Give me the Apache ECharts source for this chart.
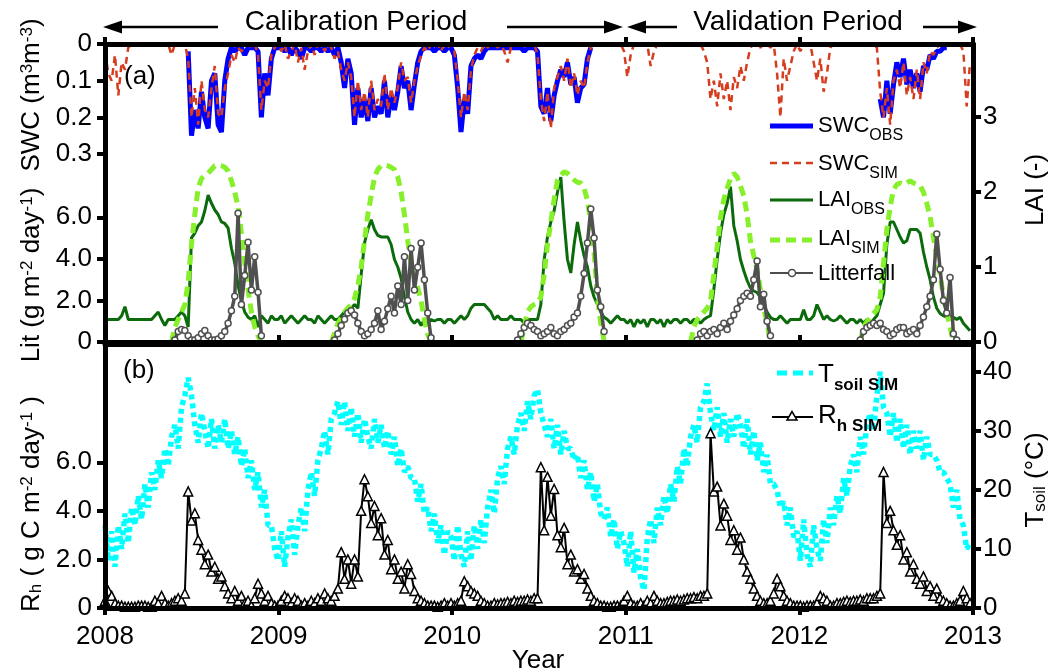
<!DOCTYPE html>
<html><head><meta charset="utf-8">
<script src="https://cdn.jsdelivr.net/npm/echarts@6/dist/echarts.min.js"></script>
<style>html,body{margin:0;padding:0;background:#fff}#c{width:1060px;height:672px}</style>
</head><body><div id="c"></div>
<script>
// ---------------- DATA (weekly samples starting 1 Jan 2008) ----------------
const _ = null;
const START_YEAR = 2008;
const STEP_DAYS = 7;
const xTicks = [2008, 2009, 2010, 2011, 2012, 2013];
const swcTicks = [0, 0.1, 0.2, 0.3];
const litTicks = [0, 2, 4, 6];
const laiTicks = [0, 1, 2, 3];
const rhTicks = [0, 2, 4, 6];
const tsoilTicks = [0, 10, 20, 30, 40];

const swcObs = [
 _,_,_,_,_,_,_,_,_,_,_,_,_,_,_,_,_,_,_,_,_,_,_,_,_,
 0.02,0.25,0.18,0.23,0.13,0.2,0.23,0.1,0.08,0.22,0.24,0.1,0.04,0.01,0.02,0.01,0.01,0.03,0.01,0.01,0.01,0.02,0.2,0.08,0.14,0.04,0.01,
 0.01,0.01,0.02,0.01,0.03,0.01,0.02,0.04,0.01,0.01,0.02,0.01,0.01,0.02,0.01,
 0.02,0.01,0.03,0.01,0.05,0.12,0.04,0.08,0.22,0.12,0.2,0.15,0.21,0.12,0.2,0.17,0.19,0.1,0.2,0.14,0.18,0.13,0.06,0.12,0.1,0.18,0.11,0.05,0.02,0.01,0.01,0.01,0.02,0.01,0.01,0.02,0.01,
 0.01,0.03,0.12,0.24,0.15,0.19,0.06,0.04,0.03,0.04,0.02,0.01,0.01,0.01,0.01,0.01,0.01,0.01,0.01,0.01,0.01,0.01,0.02,0.01,0.01,0.01,0.02,
 0.17,0.19,0.12,0.21,0.14,0.1,0.07,0.09,0.05,0.11,0.09,0.16,0.12,0.11,0.04,0.01,
 _,_,_,_,_,_,_,_,_,
 _,_,_,_,_,_,_,_,_,_,_,_,_,_,_,_,_,_,_,_,_,_,_,_,_,_,_,_,_,_,_,_,_,_,_,_,_,_,_,_,_,_,_,_,_,_,_,_,_,_,_,_,
 _,_,_,_,_,_,_,_,_,_,_,_,_,_,_,_,_,_,_,_,_,_,_,_,_,
 0.15,0.2,0.1,0.19,0.11,0.05,0.09,0.04,0.11,0.07,0.12,0.08,0.13,0.06,0.07,0.03,0.04,0.02,0.02,0.01,0.01,
 _,_,_,_,_,_,_
];
const swcSim = [
 0.02,0.08,0.1,0.03,0.14,0.05,0.07,0.01,0, 0,0,0,0,0,0,0,0,0,0, 0,0.03,0,0,0,0,
 0.04,0.2,0.12,0.22,0.1,0.18,0.2,0.12,0.06,0.19,0.2,0.12,0.08,0.03,0.05,0.01,0.02,0.01,0,0.01,0,0.03,0.18,0.1,0.12,0.03,0.01,
 0,0.02,0,0.04,0.02,0,0.05,0.01,0.07,0.02, 0,0.03,0,0,0.02,0,0.01,0.04,0.02,0.07, 0.1,0.05,0.09,0.2,0.1,0.18,0.13,0.2,0.1,0.18,
 0.15,0.17,0.08,0.18,0.12,0.16,0.12,0.05,0.1,0.09, 0.16,0.1,0.06,0.03,0.01,0.02,0,0.01,0,0.02, 0,0.01,
 0,0.02,0.1,0.2,0.13,0.18,0.07,0.03,0.01,0.02, 0,0.01,0,0,0.01,0,0.02,0.05,0.01,0, 0,0,0.01,0,0,0,0.03,0.15,0.21,0.13,
 0.23,0.12,0.09,0.06,0.1,0.04,0.12,0.08,0.14,0.1, 0.12,0.05,0.01,0,0,0,0,0,0,0, 0,0,
 0.02,0.09,0.03,0,0,0,0,0,0.06,0.02, 0,0,0,0,0,0,0,0,0,0, 0,0,0,0,0.02,0.05,0.15,0.1,0.17,0.08,
 0.15,0.1,0.18,0.09,0.12,0.06,0.1,0.05,0.01,0, 0,0.01,0,0,0.01,0,0.08,0.2,0.04,0.1, 0.06,0.02,
 0,0.02,0,0,0,0.05,0.1,0.04,0.13,0.08, 0.01,0,0,0,0,0,0,0,0,0, 0,0,0,0,0.01,0.13,0.2,0.12,0.22,0.1,
 0.07,0.12,0.05,0.14,0.09,0.15,0.07,0.15,0.05,0.08, 0.02,0.03,0.01,0,0,0,0,0,0,0, 0.02,0.17,0.05
];
const laiObs = [
 0.3,0.3,0.3,0.3,0.3,0.35,0.47,0.3,0.3, 0.3,0.3,0.3,0.3,0.3,0.3,0.35,0.4, 0.3,0.22,0.3,0.3,0.3,0.35,0.4,
 0.35,0.2,1.39,1.45,1.55,1.6,1.75,1.96,1.85,1.76,1.7,1.6,1.58,1.52,1.25,1.05,0.75,0.55,0.4,0.33,0.3,
 0.35,0.2,0.35,0.3,0.25,0.35,0.3,
 0.3,0.35,0.25,0.3,0.35,0.3,0.25,0.3,0.35,0.3,0.3,0.25,0.35,0.3,0.25,0.3,0.35,0.3, 0.3,0.35,0.4,0.43,
 0.45,0.5,0.45,0.9,1.32,1.5,1.63,1.5,1.42,1.4,1.4,1.4,1.3,1.1,1.0,0.85,0.6,0.4,0.3,
 0.25,0.3,0.22,0.3,0.25,0.3,0.28,0.3,0.3,0.25,0.3,
 0.3,0.25,0.3,0.35,0.3,0.35, 0.45,0.5,0.5,0.5,0.5,0.45,0.4,0.3, 0.35,0.3,0.3,0.3,0.35,0.3,0.3,0.3,0.25,0.3,0.3,0.3, 0.3,
 0.5,1.1,1.4,1.6,1.75,2.0,2.2,1.6,1.1,0.92,1.3,1.6,1.35,1.15,1.0,0.75,0.6,0.5,0.4,0.33, 0.3,0.25,0.3,0.35,0.3,
 0.3,0.25,0.3,0.2,0.3,0.25,0.3,0.2,0.3,0.3,0.25,0.3,0.2,0.3,0.25,0.3,0.3,0.25,0.3,0.3,0.25,0.3,0.3,0.25, 0.3,0.33,
 0.35,0.7,1.1,1.45,1.7,1.85,2.07,1.55,1.35,1.1,0.95,0.82,0.72,0.68,0.66,0.6,0.5,0.4,0.33, 0.3,0.3,0.35,0.3,0.25,0.3,0.3,
 0.3,0.3,0.43,0.3,0.3,0.35,0.5,0.4,0.3,0.35,0.3,0.28,0.3,0.35,0.3,0.25,0.3, 0.3,0.25,0.3,0.25,0.3,0.22,0.3,0.35,
 0.5,0.65,1.3,1.6,1.6,1.5,1.4,1.32,1.35,1.5,1.5,1.5,1.45,1.2,1.0,0.83,0.6,0.45,0.38,0.35,0.33,0.35,0.33,0.3,0.33,0.25,0.2,0.15
];
const laiSim = [
 _,_,_,_,_,_,_,_,_,_,_,_,_,_,_,_,_,_,_,_, 0,
 0.2,0.3,0.4,0.5,0.8,1.3,1.7,2.05,2.18,2.22,2.25,2.3,2.35,2.36,2.35,2.33,2.28,2.15,2.0,1.8,1.45,1.05,0.7,0.4,0.2,0.08,0, _,_,_,_,
 _,_,_,_,_,_,_,_,_,_,_,_,_,_,_,_,
 0,0.12,0.25,0.32,0.4,0.45,0.5,0.58,0.75,1.0,1.35,1.7,1.95,2.2,2.3,2.35,2.36,2.35,2.33,2.3,2.2,2.0,1.7,1.35,1.05,0.85,0.72,0.55,0.3,0.1,0, _,_,_,_,_,
 _,_,_,_,_,_,_,_,_,_,_,_,_,_,_,_,_,_,_,_,_,
 0,0.2,0.4,0.47,0.5,0.52,0.6,0.9,1.3,1.6,1.9,2.16,2.22,2.27,2.25,2.2,2.16,2.13,2.12,2.05,1.89,1.6,1.2,0.6,0.25,0.02, _,_,_,_,_,
 _,_,_,_,_,_,_,_,_,_,_,_,_,_,_,_,_,_,_,_,
 0,0.2,0.3,0.35,0.4,0.45,0.55,0.9,1.27,1.65,1.9,2.05,2.18,2.25,2.2,2.08,1.95,1.7,1.35,1.15,0.96,0.7,0.45,0.25,0, _,_,_,_,_,_,_,
 _,_,_,_,_,_,_,_,_,_,_,_,_,_,_,_,_,_,_,
 0,0.2,0.27,0.33,0.38,0.43,0.6,1.05,1.5,1.8,2.03,2.1,2.12,2.1,2.12,2.15,2.12,2.1,2.08,2.0,1.85,1.67,1.4,1.13,0.9,0.6,0.4,0.2,0, _,_,_,_,_
];
const litter = [
 _,_,_,_,_,_,_,_,_,_,_,_,_,_,_,_,_,_,_,_,_,
 0.1,0.5,0.6,0.55,0.3,0.1,0.1,0.2,0.4,0.55,0.3,0.1,0.1,0.15,0.3,0.5,0.9,1.5,2.2,6.2,1.8,3.2,4.8,2.5,4.1,2.4,0.3, _,_,_,_,
 _,_,_,_,_,_,_,_,_,_,_,_,_,_,_,_,_,
 0.1,0.4,0.8,1.1,1.4,1.5,1.3,0.9,0.5,0.3,0.4,0.6,0.9,1.5,0.6,1.0,1.6,2.2,1.4,2.7,1.8,4.1,2.0,4.5,2.5,3.6,4.76,3.0,1.4,0.2, _,_,_,_,_,
 _,_,_,_,_,_,_,_,_,_,_,_,_,_,_,_,_,_,_,_,
 0.1,0.4,0.7,0.9,0.8,0.6,0.5,0.3,0.4,0.5,0.7,0.4,0.3,0.5,0.6,0.8,0.9,1.2,1.4,2.2,3.3,4.76,6.4,5.0,2.5,1.7,0.5, _,_,_,_,_,
 _,_,_,_,_,_,_,_,_,_,_,_,_,_,_,_,_,_,_,_,_,_,
 0.1,0.4,0.5,0.3,0.5,0.6,0.4,0.7,0.9,0.6,1.0,1.3,1.6,2.0,2.2,2.35,2.2,3.0,3.9,1.7,2.3,1.0,0.3, _,_,_,_,_,_,_,
 _,_,_,_,_,_,_,_,_,_,_,_,_,_,_,_,_,_,_,
 0.1,0.5,0.7,0.8,0.9,0.8,0.9,0.6,0.5,0.3,0.4,0.6,0.7,0.7,0.4,0.5,0.6,0.4,0.8,1.2,1.7,2.2,3.0,5.2,3.5,2.0,1.4,3.1,0.4,0.1, _,_,_,_
];
const tsoil = [
 14,8,13,7,14,10,16,11,17, 14,19,15,21,17,23,20,25,22, 27,24,29,31,27,34,36, 39,36,31,28,33,30,27,32,27,31,28,32,27, 30,26,29,24,27,22,25, 20,23,17,20,14,14,10,
 8,13,7,12,15,9,14, 17,13,20,23,19,25, 27,30,26,32,33,35,31,35, 30,34,29,33,28,32,29,27,32,28, 31,27,30,26,29,24,27,23, 24,22,22,18,21,16,17, 13,16,11,14,9,13,
 12,8,14,9,7,13,8,14,10, 15,11,17,20,16,22, 24,21,27,29,26,31, 33,30,35,32,36,37, 33,31,29,32,27,31,26,30,27, 27,25,26,22,25,20, 23,18,21,16,15,17, 12,15,10,13,
 11,7,13,6,10,5,3, 12,15,11,17,14,19,16, 21,18,24,21,27,24, 29,31,28,34,35,38, 33,30,34,29,33,28,32,29,33, 31,27,32,26,30,25,28,23, 26,21,21,20,17,18, 14,17,12,
 13,8,15,9,7,14,10,8,15,11,17, 14,19,16,22,19,24, 26,23,29,26,31,33,30,36, 40,34,33, 29,33,28,32,27,31,26,30,27, 30,25,29,26,26,25,23, 23,22,21,17,20,15, 14,10,11
];
const rh = [
 0.3,0.7,0.5,0.2, 0.1,0.1,0.05,0.05,0.05,0.05,0.1,0.1,0.1,0.05,0.05, 0.3,0.2,0.5,0.2,0.1,0.2, 0.3,0.4,0.3,0.6,
 4.8,3.6,3.9,2.8, 2.4,1.8,2.2,1.5,1.7, 1.2,1.3,0.9,0.6,0.4, 0.7,0.3,0.5,0.2,0.3,0.1, 0.4,1.0,0.6,0.3,0.5,0.2,0.1,
 0.1,0.3,0.5,0.4,0.2,0.4,0.3,0.1,0.2,0.1, 0.3,0.2,0.4,0.3,0.6,0.4, 0.3,0.5,0.8, 2.3,1.2,2.0,1.0,
 2.0,1.3,4.0,5.3,4.6,3.5,4.2,3.0,3.7,2.2,2.8,1.6,2.0,1.2,1.5,0.8,1.8,1.4,0.7,0.4,0.3,0.2,0.1, 0.1,0.1,0.05,0.1,0.2,0.1,
 0.2,0.1,0.2,0.3, 1.1,0.9,0.7,0.6,0.5,0.3,0.2, 0.1,0.1,0.2,0.15,0.2,0.2,0.25,0.2,0.3,0.25,0.3,0.3,0.35,0.3,0.4,0.4,
 5.8,3.2,5.4,3.8,4.9,3.0,2.5,3.3,1.8,2.2,1.5,1.6,1.2,1.4,0.8,0.5,0.3, 0.2,0.1,0.1,0.05,0.05,0.1,0.1,0.1,
 0.3,0.5,0.2, 0.1,0.1,0.2,0.1,0.3,0.2, 0.5,0.3, 0.2,0.2,0.25,0.3,0.3,0.35,0.3,0.35,0.4,0.4,0.45,0.4,0.5,0.5,0.6,
 7.2,4.8,5.0,3.4,4.3,3.8,2.8,3.2,2.4,2.9,2.0,1.5,1.2,0.8,0.5, 0.3,0.2,0.2,0.3, 0.6,1.2,0.9,0.5, 0.3,0.2,0.1,
 0.1,0.1,0.05,0.1,0.1,0.1,0.2, 0.5,0.4,0.3,0.1, 0.1,0.2,0.2,0.25,0.3,0.25,0.3,0.3,0.35,0.3,0.4,0.4,0.4,0.5, 0.6,5.6,
 3.5,4.0,3.2,2.6,3.0,2.0,2.3,1.5,1.8,1.2,1.0,1.3,0.7,0.9,0.5,0.8,0.4,0.3, 0.2,0.1,0.1,0.2,0.3,0.7,0.4,0.2
];

// ---------------- CHART ----------------
const FONT = '"Liberation Sans", Arial, sans-serif';
const K = '#000';
function toXY(arr) { return arr.map((v, i) => [START_YEAR + i * STEP_DAYS / 365.25, v]); }
const fmt1 = v => (v === 0 ? '0' : v.toFixed(1));
const fmt0 = v => String(v);

function xAx(grid, pos, tickShow, tickInside, labelShow) {
  return {
    type: 'value', gridIndex: grid, position: pos, min: 2008, max: 2013, interval: 1, z: 10,
    axisLine: { show: true, onZero: false, lineStyle: { color: K, width: 5 } },
    axisTick: { show: tickShow, inside: tickInside, length: 7, customValues: xTicks, lineStyle: { color: K, width: 4 } },
    axisLabel: { show: labelShow, customValues: xTicks, formatter: fmt0, fontSize: 26, fontFamily: FONT, color: K, margin: 16 },
    splitLine: { show: false }
  };
}
function yAx(grid, pos, min, max, ticks, fmt, showLine, inverse) {
  return {
    type: 'value', gridIndex: grid, position: pos, min: min, max: max, inverse: !!inverse, z: 10,
    axisLine: { show: showLine, onZero: false, lineStyle: { color: K, width: 5 } },
    axisTick: { show: true, inside: false, length: 8, customValues: ticks, lineStyle: { color: K, width: 4 } },
    axisLabel: { show: true, customValues: ticks, formatter: fmt, fontSize: 26, fontFamily: FONT, color: K, margin: pos === 'left' ? 13 : 10 },
    splitLine: { show: false }
  };
}

const titleRich = {
  a: { fontSize: 26, fontFamily: FONT, lineHeight: 26, verticalAlign: 'middle', fill: K },
  s: { fontSize: 17, fontFamily: FONT, lineHeight: 17, verticalAlign: 'top', padding: [0, 0, 31, 0], fill: K },
  b: { fontSize: 17, fontFamily: FONT, lineHeight: 17, verticalAlign: 'bottom', padding: [31, 0, 0, 0], fill: K }
};
const legRich = {
  a: { fontSize: 22, fontFamily: FONT, lineHeight: 22, verticalAlign: 'top', fill: K },
  b: { fontSize: 16, fontFamily: FONT, lineHeight: 16, verticalAlign: 'top', padding: [13, 0, 0, 0], fill: K }
};
const legRich2 = {
  a: { fontSize: 26, fontFamily: FONT, lineHeight: 26, verticalAlign: 'top', fill: K },
  b: { fontSize: 17, fontFamily: FONT, fontWeight: 'bold', lineHeight: 17, verticalAlign: 'top', padding: [15, 0, 0, 0], fill: K }
};
function txt(x, y, text, rich, align, rot) {
  return { type: 'text', x: x, y: y, rotation: rot || 0, z: 100,
    style: { text: text, rich: rich, fill: K, font: '26px ' + FONT, align: align, textAlign: align, verticalAlign: 'middle', textVerticalAlign: 'middle' } };
}
function plain(x, y, text, size, align) {
  return { type: 'text', x: x, y: y, z: 100,
    style: { text: text, fill: K, font: size + 'px ' + FONT, align: align, textAlign: align, verticalAlign: 'middle', textVerticalAlign: 'middle' } };
}
function seg(x1, x2, y, color, w, dash) {
  return { type: 'line', z: 100, shape: { x1: x1, y1: y, x2: x2, y2: y }, style: { stroke: color, lineWidth: w, lineDash: dash || null } };
}
function tri(points) { return { type: 'polygon', z: 100, shape: { points: points }, style: { fill: K } }; }

const graphics = [
  seg(118, 218, 27, K, 2.5), tri([[103, 27], [122, 20.5], [122, 33.5]]),
  seg(507, 606, 27, K, 2.5), tri([[623, 27], [604, 20.5], [604, 33.5]]),
  seg(644, 677, 27, K, 2.5), tri([[627, 27], [646, 20.5], [646, 33.5]]),
  seg(923, 960, 27, K, 2.5), tri([[977, 27], [958, 20.5], [958, 33.5]]),
  plain(356, 22, 'Calibration Period', 28, 'center'),
  plain(798, 22, 'Validation Period', 28, 'center'),
  plain(124, 77, '(a)', 26, 'left'),
  plain(123, 371, '(b)', 26, 'left'),
  plain(538, 661, 'Year', 26, 'center'),
  txt(32, 95, '{a|SWC (m}{s|3}{a|m}{s|-3}{a|)}', titleRich, 'center', Math.PI / 2),
  txt(32, 275, '{a|Lit (g m}{s|-2}{a| day}{s|-1}{a|)}', titleRich, 'center', Math.PI / 2),
  txt(32, 504, '{a|R}{b|h}{a| ( g C m}{s|-2}{a| day}{s|-1}{a| )}', titleRich, 'center', Math.PI / 2),
  txt(1036, 190, '{a|LAI (-)}', titleRich, 'center', Math.PI / 2),
  txt(1036, 480, '{a|T}{b|soil}{a| (°C)}', titleRich, 'center', Math.PI / 2),
  // legend (a)
  seg(770, 813, 126, '#0000ff', 5), txt(818, 126, '{a|SWC}{b|OBS}', legRich, 'left'),
  seg(770, 813, 163, '#d63c1e', 2.5, [7, 5]), txt(818, 163.5, '{a|SWC}{b|SIM}', legRich, 'left'),
  seg(770, 813, 200, '#0b6b0b', 3), txt(818, 200, '{a|LAI}{b|OBS}', legRich, 'left'),
  seg(770, 813, 240, '#86f02a', 5, [10, 6]), txt(818, 238.5, '{a|LAI}{b|SIM}', legRich, 'left'),
  seg(770, 813, 273, '#4d4d4d', 2),
  { type: 'circle', z: 101, shape: { cx: 792, cy: 273, r: 3.5 }, style: { fill: '#fff', stroke: '#4d4d4d', lineWidth: 1.5 } },
  txt(818, 274, '{a|Litterfall}', { a: { fontSize: 22, fontFamily: FONT, lineHeight: 22, fill: K } }, 'left'),
  // legend (b)
  seg(777, 813, 373, '#00ffff', 5, [10, 6]), txt(818, 375, '{a|T}{b|soil SIM}', legRich2, 'left'),
  seg(772, 813, 417, K, 2),
  { type: 'polygon', z: 101, shape: { points: [[792, 411.5], [787, 420], [797, 420]] }, style: { fill: '#fff', stroke: K, lineWidth: 1.5 } },
  txt(818, 415.5, '{a|R}{b|h SIM}', legRich2, 'left')
];

const option = {
  animation: false,
  backgroundColor: '#fff',
  grid: [
    { left: 105, right: 87, top: 44, height: 298 },
    { left: 105, right: 87, top: 344, height: 264 }
  ],
  xAxis: [
    xAx(0, 'bottom', true, true, false),
    xAx(0, 'top', true, false, false),
    xAx(1, 'bottom', true, false, true),
    xAx(1, 'top', false, false, false)
  ],
  yAxis: [
    yAx(0, 'left', 0, 0.812, swcTicks, fmt1, true, true),
    yAx(0, 'left', 0, 14.34, litTicks, fmt1, false, false),
    yAx(0, 'right', 0, 3.973, laiTicks, fmt0, true, false),
    yAx(1, 'left', 0, 10.87, rhTicks, fmt1, true, false),
    yAx(1, 'right', 0, 44.7, tsoilTicks, fmt0, true, false)
  ],
  series: [
    { name: 'SWC OBS', type: 'line', xAxisIndex: 0, yAxisIndex: 0, data: toXY(swcObs), symbol: 'none', showSymbol: false,
      lineStyle: { color: '#0000ff', width: 5 }, z: 2 },
    { name: 'SWC SIM', type: 'line', xAxisIndex: 0, yAxisIndex: 0, data: toXY(swcSim), symbol: 'none', showSymbol: false,
      lineStyle: { color: '#d63c1e', width: 2.5, type: [7, 5] }, z: 3 },
    { name: 'LAI OBS', type: 'line', xAxisIndex: 0, yAxisIndex: 2, data: toXY(laiObs), symbol: 'none', showSymbol: false,
      lineStyle: { color: '#0b6b0b', width: 3 }, z: 3 },
    { name: 'LAI SIM', type: 'line', xAxisIndex: 0, yAxisIndex: 2, data: toXY(laiSim), symbol: 'none', showSymbol: false,
      lineStyle: { color: '#86f02a', width: 5, type: [10, 6] }, z: 4 },
    { name: 'Litterfall', type: 'line', xAxisIndex: 0, yAxisIndex: 1, data: toXY(litter), symbol: 'circle', symbolSize: 6, showSymbol: true,
      itemStyle: { color: '#fff', borderColor: '#505050', borderWidth: 1.5 }, lineStyle: { color: '#505050', width: 3.5 }, z: 5 },
    { name: 'Tsoil SIM', type: 'line', xAxisIndex: 2, yAxisIndex: 4, data: toXY(tsoil), symbol: 'none', showSymbol: false,
      lineStyle: { color: '#00ffff', width: 5.5, type: [5, 4] }, z: 2 },
    { name: 'Rh SIM', type: 'line', xAxisIndex: 2, yAxisIndex: 3, data: toXY(rh), symbol: 'triangle', symbolSize: 9, showSymbol: true,
      itemStyle: { color: '#fff', borderColor: K, borderWidth: 1.5 }, lineStyle: { color: K, width: 2 }, z: 5 }
  ],
  graphic: { elements: graphics }
};
const chart = echarts.init(document.getElementById('c'), null, { renderer: 'canvas' });
chart.setOption(option);
</script>
</body></html>
